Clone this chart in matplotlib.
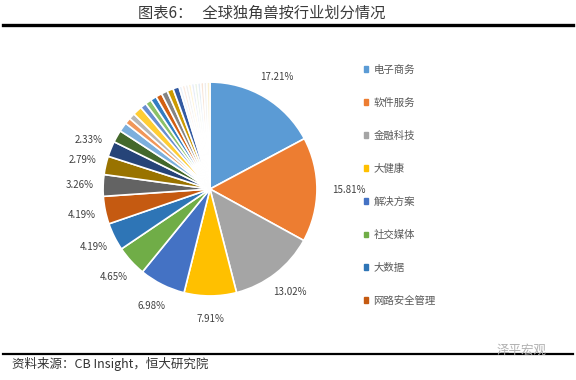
import numpy as np
import matplotlib
matplotlib.use('Agg')
import matplotlib.pyplot as plt

plt.rcParams['font.family'] = ['Noto Sans CJK SC', 'DejaVu Sans']

title = '图表6：   全球独角兽按行业划分情况'
source = '资料来源：CB Insight，恒大研究院'
legend_names = ['电子商务', '软件服务', '金融科技', '大健康', '解决方案', '社交媒体', '大数据', '网路安全管理']

# shares in % (first 11 are labelled in the chart, the rest are small industries)
shares = [17.21, 15.81, 13.02, 7.91, 6.98, 4.65, 4.19, 4.19, 3.26, 2.79, 2.33,
          1.86, 1.40, 0.93, 0.93, 1.40, 0.93, 0.93, 0.93, 0.93, 0.93, 0.93, 0.93,
          0.47, 0.47, 0.47, 0.47, 0.47, 0.47, 0.47, 0.47, 0.47, 0.47]
n_labelled = 11

colors = ['#5B9BD5', '#ED7D31', '#A5A5A5', '#FFC000', '#4472C4', '#70AD47',
          '#2E75B6', '#C55A11', '#636363', '#997300', '#264478',
          '#43682B', '#7CAFDD', '#F1975A', '#B7B7B7', '#FFCD33', '#698ED0',
          '#8CC168', '#327DC2', '#D26012', '#848484', '#CC9A00', '#335AA1',
          '#EAF1F9', '#FCEADF', '#EFEFEF', '#FFF5D6', '#E6ECF8', '#EBF4E6',
          '#E3EDF7', '#F8E4D6', '#EDEDED', '#FBF0D0']

fig = plt.figure(figsize=(5.76, 3.8), dpi=100)

# title and rules
fig.text(0.455, 0.964, title, ha='center', va='center', fontsize=11, color='#3a3a3a')
fig.add_artist(plt.Line2D([0.006, 0.994], [0.935, 0.935], color='black', lw=2.4))
fig.add_artist(plt.Line2D([0.006, 0.994], [0.068, 0.068], color='black', lw=1.6))
fig.text(0.02, 0.042, source, ha='left', va='center', fontsize=9, color='#333333',
         style='italic')
fig.text(0.905, 0.078, '泽平宏观', ha='center', va='center', fontsize=9, color='#b0b0b0')

# pie
ax = fig.add_axes([0.1233, 0.1368, 278 / 576, 278 / 380])
wedges, _ = ax.pie(shares, colors=colors, startangle=90, counterclock=False,
                   radius=1, wedgeprops=dict(edgecolor='white', linewidth=1.2))
ax.set_xlim(-1.3, 1.3)
ax.set_ylim(-1.3, 1.3)
ax.axis('off')

total = sum(shares)
cum = 0
for i, v in enumerate(shares):
    mid = 90 - (cum + v / 2) / total * 360
    cum += v
    if i >= n_labelled:
        continue
    r = 1.3 if i == 1 else 1.22
    x = r * np.cos(np.radians(mid))
    y = r * np.sin(np.radians(mid))
    ax.text(x, y, f'{v:.2f}%', ha='center', va='center', fontsize=7, color='#404040')

# legend
handles = [plt.Rectangle((0, 0), 1, 1, color=colors[i]) for i in range(len(legend_names))]
leg = fig.legend(handles, legend_names, loc='upper left', bbox_to_anchor=(0.615, 0.855),
                 frameon=False, fontsize=7.5, labelspacing=2.2, handlelength=0.45,
                 handleheight=0.45, handletextpad=0.5)
for t in leg.get_texts():
    t.set_color('#595959')

fig.savefig('out.png', dpi=100)
